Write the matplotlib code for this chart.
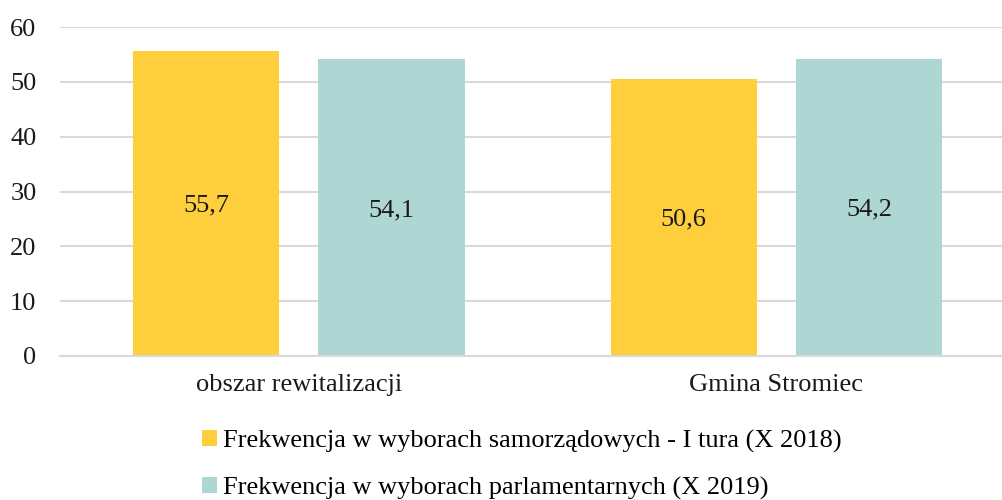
import matplotlib.pyplot as plt
import numpy as np

categories = ['obszar rewitalizacji', 'Gmina Stromiec']
series_names = ['Frekwencja w wyborach samorządowych - I tura (X 2018)',
                'Frekwencja w wyborach parlamentarnych (X 2019)']
turnout_2018 = [55.7, 50.6]
turnout_2019 = [54.1, 54.2]
colors = ['#FFCE3C', '#AED7D4']

plt.rcParams['font.family'] = ['Liberation Serif', 'DejaVu Serif']
fs = 19

fig = plt.figure(figsize=(10.02, 5), dpi=100)
ax = fig.add_axes([0.06, 0.288, 0.953, 0.658])

x = np.arange(len(categories))
w = 0.306
off = 0.194
for vals, dx, c, name in [(turnout_2018, -off, colors[0], series_names[0]),
                          (turnout_2019, off, colors[1], series_names[1])]:
    bars = ax.bar(x + dx, vals, width=w, color=c, label=name, zorder=2)
    for b, v in zip(bars, vals):
        ax.text(b.get_x() + b.get_width() / 2, v / 2, f'{v:.1f}'.replace('.', ','),
                ha='center', va='center_baseline', fontsize=fs, color='#1a1a1a',
                zorder=3)

ax.set_xlim(-0.5, 1.5)
ax.set_ylim(0, 60)
ax.set_yticks(range(0, 61, 10))
ax.set_xticks(x)
ax.set_xticklabels(categories)
ax.yaxis.grid(True, color='#d9d9d9', linewidth=1.5, zorder=0)
ax.set_axisbelow(True)
for s in ['top', 'right', 'left']:
    ax.spines[s].set_visible(False)
ax.spines['bottom'].set_color('#d9d9d9')
ax.spines['bottom'].set_linewidth(1.5)
ax.tick_params(axis='both', length=0, labelsize=fs, colors='#1a1a1a')
ax.tick_params(axis='y', pad=17)
ax.tick_params(axis='x', pad=13)

leg = fig.legend(loc='lower center', bbox_to_anchor=(0.521, -0.021), ncol=1,
                 frameon=False, fontsize=fs, handlelength=0.55, handleheight=0.55,
                 handletextpad=0.25, labelspacing=0.9, borderaxespad=0)

fig.savefig('out.png', dpi=100)
